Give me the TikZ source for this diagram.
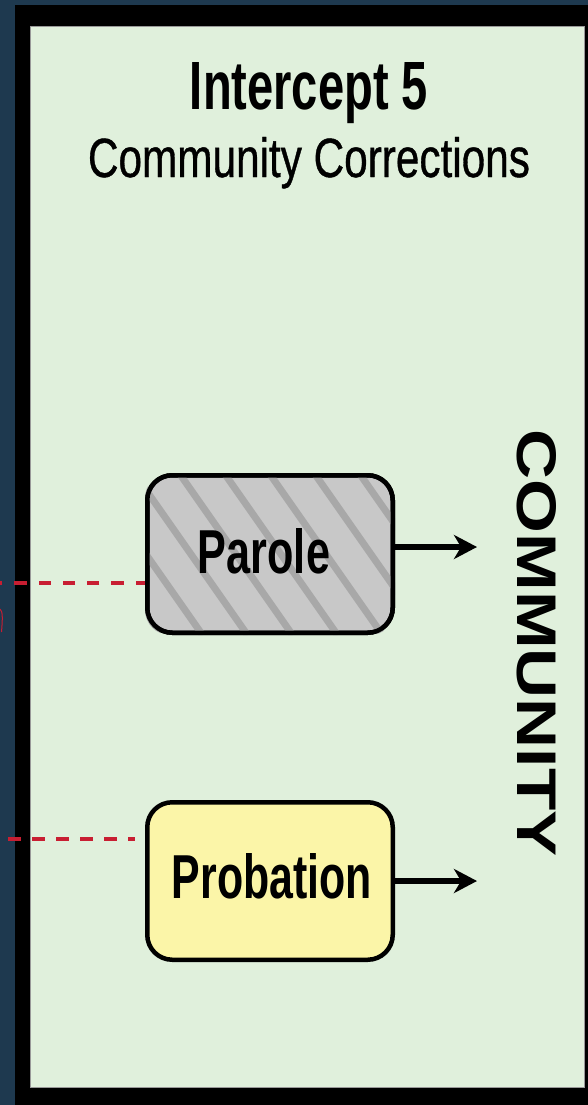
\documentclass[tikz,border=0pt]{standalone}
\usepackage{fontspec}
\setmainfont{Liberation Sans}
\newfontfamily\semifont[FakeBold=0.8]{Liberation Sans}
\usetikzlibrary{arrows.meta}
\definecolor{navy}{RGB}{30,57,79}
\definecolor{bggreen}{RGB}{224,240,220}
\definecolor{boxgray}{RGB}{200,200,200}
\definecolor{stripegray}{RGB}{168,168,168}
\definecolor{boxyellow}{RGB}{251,245,168}
\definecolor{dashred}{RGB}{200,30,50}
\tikzset{
  stepbox/.style={draw=black, line width=4.5pt, rounded corners=25pt,
    minimum width=245.5pt, minimum height=157.5pt, inner sep=0pt},
  txt/.style={inner sep=0pt, outer sep=0pt, anchor=base},
  arr/.style={line width=5.5pt, -{Stealth[length=23pt,width=24pt,inset=7pt]}},
  reddash/.style={dashred, line width=4.5pt}
}
\begin{document}
\begin{tikzpicture}[x=1pt,y=-1pt]
\useasboundingbox (0,0) rectangle (588,1105);
\fill[navy] (0,0) rectangle (588,1105);
\fill[black] (15,5) rectangle (588,1105);
\filldraw[fill=bggreen, draw=gray!80, line width=0.8pt] (30,26) rectangle (584,1087);

% titles
\node[txt] (t1) at (309,110) {\resizebox{238pt}{47pt}{\bfseries Intercept 5}};
\node[txt] (t2) at (309,177) {\resizebox{442pt}{40pt}{\semifont Community Corrections}};

% dashed connector ends
\coordinate (pd) at (0,583);
\coordinate (qd) at (8,839);
\coordinate (qe) at (135,839);

% Parole box
\node[stepbox, fill=boxgray] (par) at (270,554) {};
\begin{scope}
  \clip[rounded corners=25pt] (par.north west) rectangle (par.south east);
  \foreach \k in {-3,...,5}
    \draw[stripegray, line width=7pt] ({177+45*\k},470) -- ++(115.5,165);
\end{scope}
\node[stepbox] (parb) at (par.center) {};
\draw[reddash, dash pattern=on 12.3pt off 12pt, dash phase=3pt] (par.west |- pd) -- (pd);
\node[txt] (partext) at (264,573) {\resizebox{132pt}{45pt}{\bfseries Parole}};

% Probation box
\node[stepbox, fill=boxyellow] (prob) at (270,881) {};
\draw[reddash, dash pattern=on 12.5pt off 11.5pt] (qd) -- (qe);
\node[txt] (probtext) at (272,898) {\resizebox{200pt}{45pt}{\bfseries Probation}};

% arrows
\coordinate (pa) at (477,547);
\coordinate (qa) at (477,881);
\draw[arr] (par.east |- pa) -- (pa);
\draw[arr] (prob.east |- qa) -- (qa);

% community label
\node[inner sep=0pt, rotate=-90] (comm) at (537,643) {\resizebox{427pt}{39pt}{\bfseries COMMUNITY}};

% clipped red mark at left edge
\draw[dashred, line width=1pt] (0,609) .. controls (3,611) and (2.5,620) .. (1.5,632);
\end{tikzpicture}
\end{document}
